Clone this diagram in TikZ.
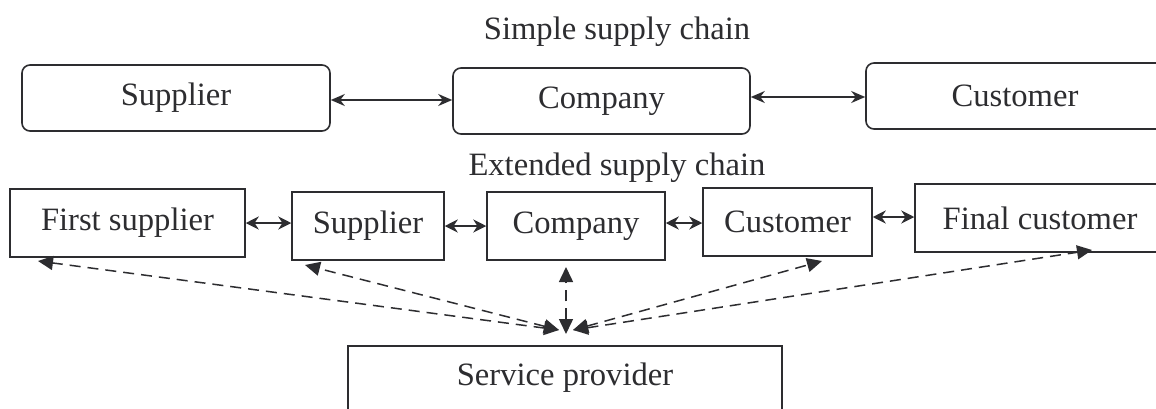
\documentclass[tikz,border=0pt]{standalone}
\usepackage{fontspec}
\setmainfont{Liberation Serif}
\usetikzlibrary{arrows.meta}
\definecolor{ink}{RGB}{45,45,48}
\begin{document}
\begin{tikzpicture}[x=0.5pt,y=-0.5pt,
  every node/.style={text=ink, font=\fontsize{16.3}{19}\selectfont},
  rbox/.style={draw=ink, line width=0.8pt, rounded corners=4pt, minimum height=33pt, inner sep=0pt},
  sbox/.style={draw=ink, line width=0.75pt, minimum height=34pt, inner sep=0pt},
  solidlink/.style={draw=ink, line width=0.8pt, {Stealth[length=7pt,width=6pt]}-{Stealth[length=7pt,width=6pt]}},
  duallink/.style={draw=ink, line width=1pt, {Stealth[length=6.5pt,width=6.5pt]}-{Stealth[length=6.5pt,width=6.5pt]}},
  dashlink/.style={draw=ink, line width=0.75pt, dash pattern=on 5.5pt off 3.5pt, {Triangle[length=7.5pt,width=7pt]}-{Triangle[length=7.5pt,width=7pt]}}
]
\useasboundingbox[fill=white] (0,0) rectangle (1156,408);

% titles
\node (t1) at (617,32) {Simple supply chain};
\node (t2) at (617,168) {Extended supply chain};

% simple chain
\node[rbox, minimum width=154pt] (s1) at (176,98) {Supplier};
\node[rbox, minimum width=148.5pt] (s2) at (601.5,101) {Company};
\node[rbox, minimum width=149pt] (s3) at (1015,96) {Customer};
\draw[solidlink] (s1.east |- 0,100) -- (s2.west |- 0,100);
\draw[solidlink] (s2.east |- 0,97) -- (s3.west |- 0,97);

% extended chain
\node[sbox, minimum width=117.5pt] (e1) at (127.5,223) {First supplier};
\node[sbox, minimum width=76pt] (e2) at (368,226) {Supplier};
\node[sbox, minimum width=89pt] (e3) at (576,226) {Company};
\node[sbox, minimum width=84.5pt] (e4) at (787.5,222) {Customer};
\node[sbox, minimum width=125pt] (e5) at (1040,218) {Final customer};
\draw[duallink] (e1.east |- 0,223) -- (e2.west |- 0,223);
\draw[duallink] (e2.east |- 0,226) -- (e3.west |- 0,226);
\draw[duallink] (e3.east |- 0,223) -- (e4.west |- 0,223);
\draw[duallink] (e4.east |- 0,217) -- (e5.west |- 0,217);

% service provider
\node[sbox, minimum width=217pt, minimum height=32pt] (sp) at (565,378) {Service provider};

% hub
\coordinate (hl) at (559,330);
\coordinate (hr) at (573,330);
\coordinate (hv) at (566,334);
\coordinate (a1) at (38,261);
\coordinate (a2) at (305,265);
\coordinate (a3) at (566,267);
\coordinate (a4) at (822,261);
\coordinate (a5) at (1092,250);

\draw[dashlink] (hl) -- (a1);
\draw[dashlink] (hl) -- (a2);
\draw[dashlink] (hv) -- (a3);
\draw[dashlink] (hr) -- (a4);
\draw[dashlink] (hr) -- (a5);
\end{tikzpicture}
\end{document}
